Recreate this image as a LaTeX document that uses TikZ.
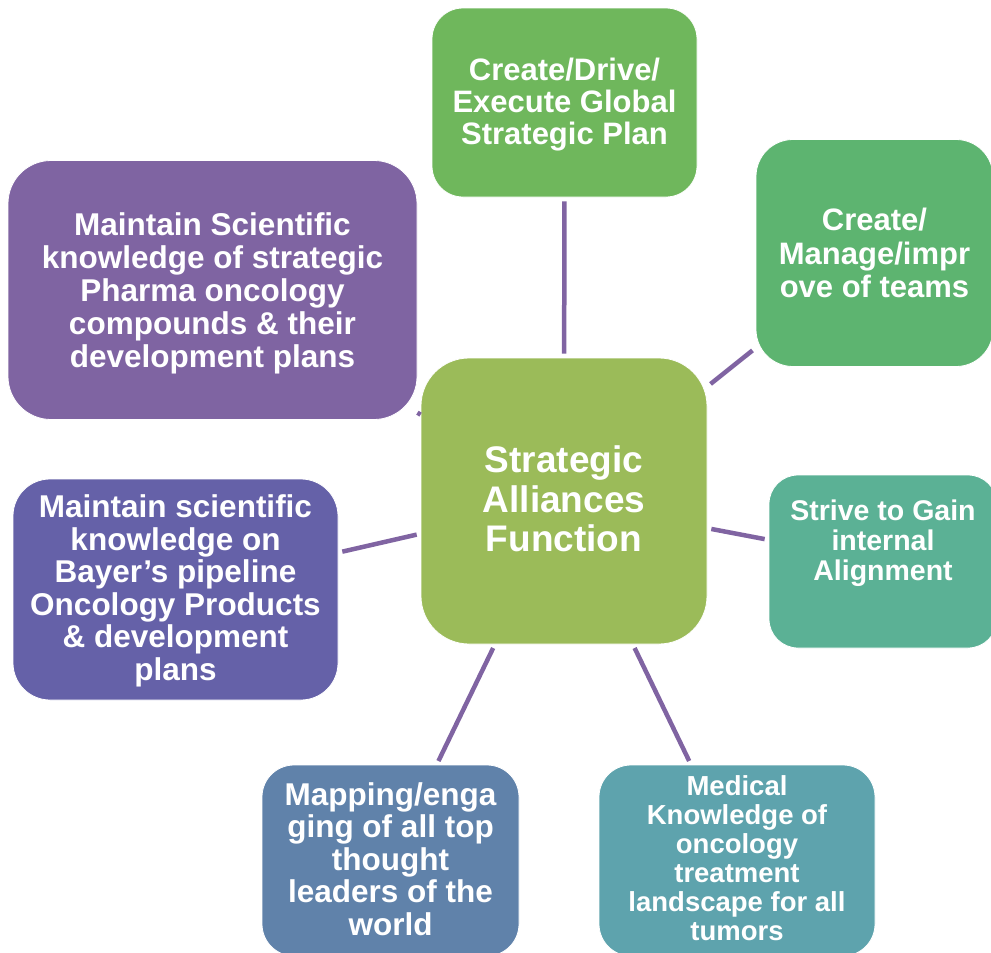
\documentclass[tikz,border=0pt]{standalone}
\usepackage{fontspec}
\setmainfont{Liberation Sans}
\definecolor{cCenter}{HTML}{9BBB59}
\definecolor{cTop}{HTML}{6FB75C}
\definecolor{cTR}{HTML}{5DB470}
\definecolor{cR}{HTML}{5BB195}
\definecolor{cBR}{HTML}{5EA3AD}
\definecolor{cBL}{HTML}{6082AA}
\definecolor{cL}{HTML}{6561A8}
\definecolor{cTL}{HTML}{7F64A2}
\definecolor{cLine}{HTML}{8064A2}
\begin{document}
\begin{tikzpicture}[x=1pt,y=-1pt,
  box/.style={rectangle, draw=white, line width=0.8pt, inner sep=0pt},
  txt/.style={text=white, align=center, inner sep=0pt},
  link/.style={draw=cLine, line width=4.5pt, shorten <=4pt, shorten >=4pt}]
\useasboundingbox (0,0) rectangle (991,953);
\clip (0,0) rectangle (991,953);
% boxes
\node[box, fill=cCenter, minimum width=286pt, minimum height=286pt, rounded corners=48pt] (c) at (564,501) {};
\node[box, fill=cTop, minimum width=265pt, minimum height=189pt, rounded corners=31pt] (top) at (564.5,102.5) {};
\node[box, fill=cTR, minimum width=237pt, minimum height=227pt, rounded corners=37pt] (tr) at (874.5,253) {};
\node[box, fill=cR, minimum width=228pt, minimum height=173pt, rounded corners=29pt] (r) at (883,561.5) {};
\node[box, fill=cBR, minimum width=276pt, minimum height=191pt, rounded corners=32pt] (br) at (737,860.5) {};
\node[box, fill=cBL, minimum width=257pt, minimum height=191pt, rounded corners=32pt] (bl) at (390.5,860.5) {};
\node[box, fill=cL, minimum width=325pt, minimum height=221pt, rounded corners=37pt] (l) at (175.5,589.5) {};
\node[box, fill=cTL, minimum width=409pt, minimum height=259pt, rounded corners=43pt] (tl) at (212.5,290) {};
% connectors
\draw[link] (c) -- (top);
\draw[link] (c) -- (tr);
\draw[link] (c) -- (r);
\draw[link] (c) -- (br);
\draw[link] (c) -- (bl);
\draw[link] (c) -- (l);
\draw[link, shorten <=0pt, shorten >=0pt] (c) -- (tl);
% texts
\node[txt, font=\bfseries\fontsize{37}{39.5}\selectfont] (ct) at (564,499) {Strategic\\Alliances\\Function};
\node[txt, font=\bfseries\fontsize{31}{32}\selectfont] (topt) at (564.5,105) {Create/Drive/\\Execute Global\\Strategic Plan};
\node[txt, font=\bfseries\fontsize{31}{33.5}\selectfont] (trt) at (874.5,253) {Create/\\Manage/impr\\ove of teams};
\node[txt, font=\bfseries\fontsize{28.5}{30}\selectfont] (rt) at (883,543) {Strive to Gain\\internal\\Alignment};
\node[txt, font=\bfseries\fontsize{27.5}{29}\selectfont] (brt) at (737,858) {Medical\\Knowledge of\\oncology\\treatment\\landscape for all\\tumors};
\node[txt, font=\bfseries\fontsize{31.5}{32.5}\selectfont] (blt) at (390.5,859) {Mapping/enga\\ging of all top\\thought\\leaders of the\\world};
\node[txt, font=\bfseries\fontsize{31.5}{32.5}\selectfont] (lt) at (175.5,591) {Maintain scientific\\knowledge on\\Bayer’s pipeline\\Oncology Products\\\& development\\plans};
\node[txt, font=\bfseries\fontsize{31.5}{33}\selectfont] (tlt) at (212.5,293) {Maintain Scientific\\knowledge of strategic\\Pharma oncology\\compounds \& their\\development plans};
\end{tikzpicture}
\end{document}
